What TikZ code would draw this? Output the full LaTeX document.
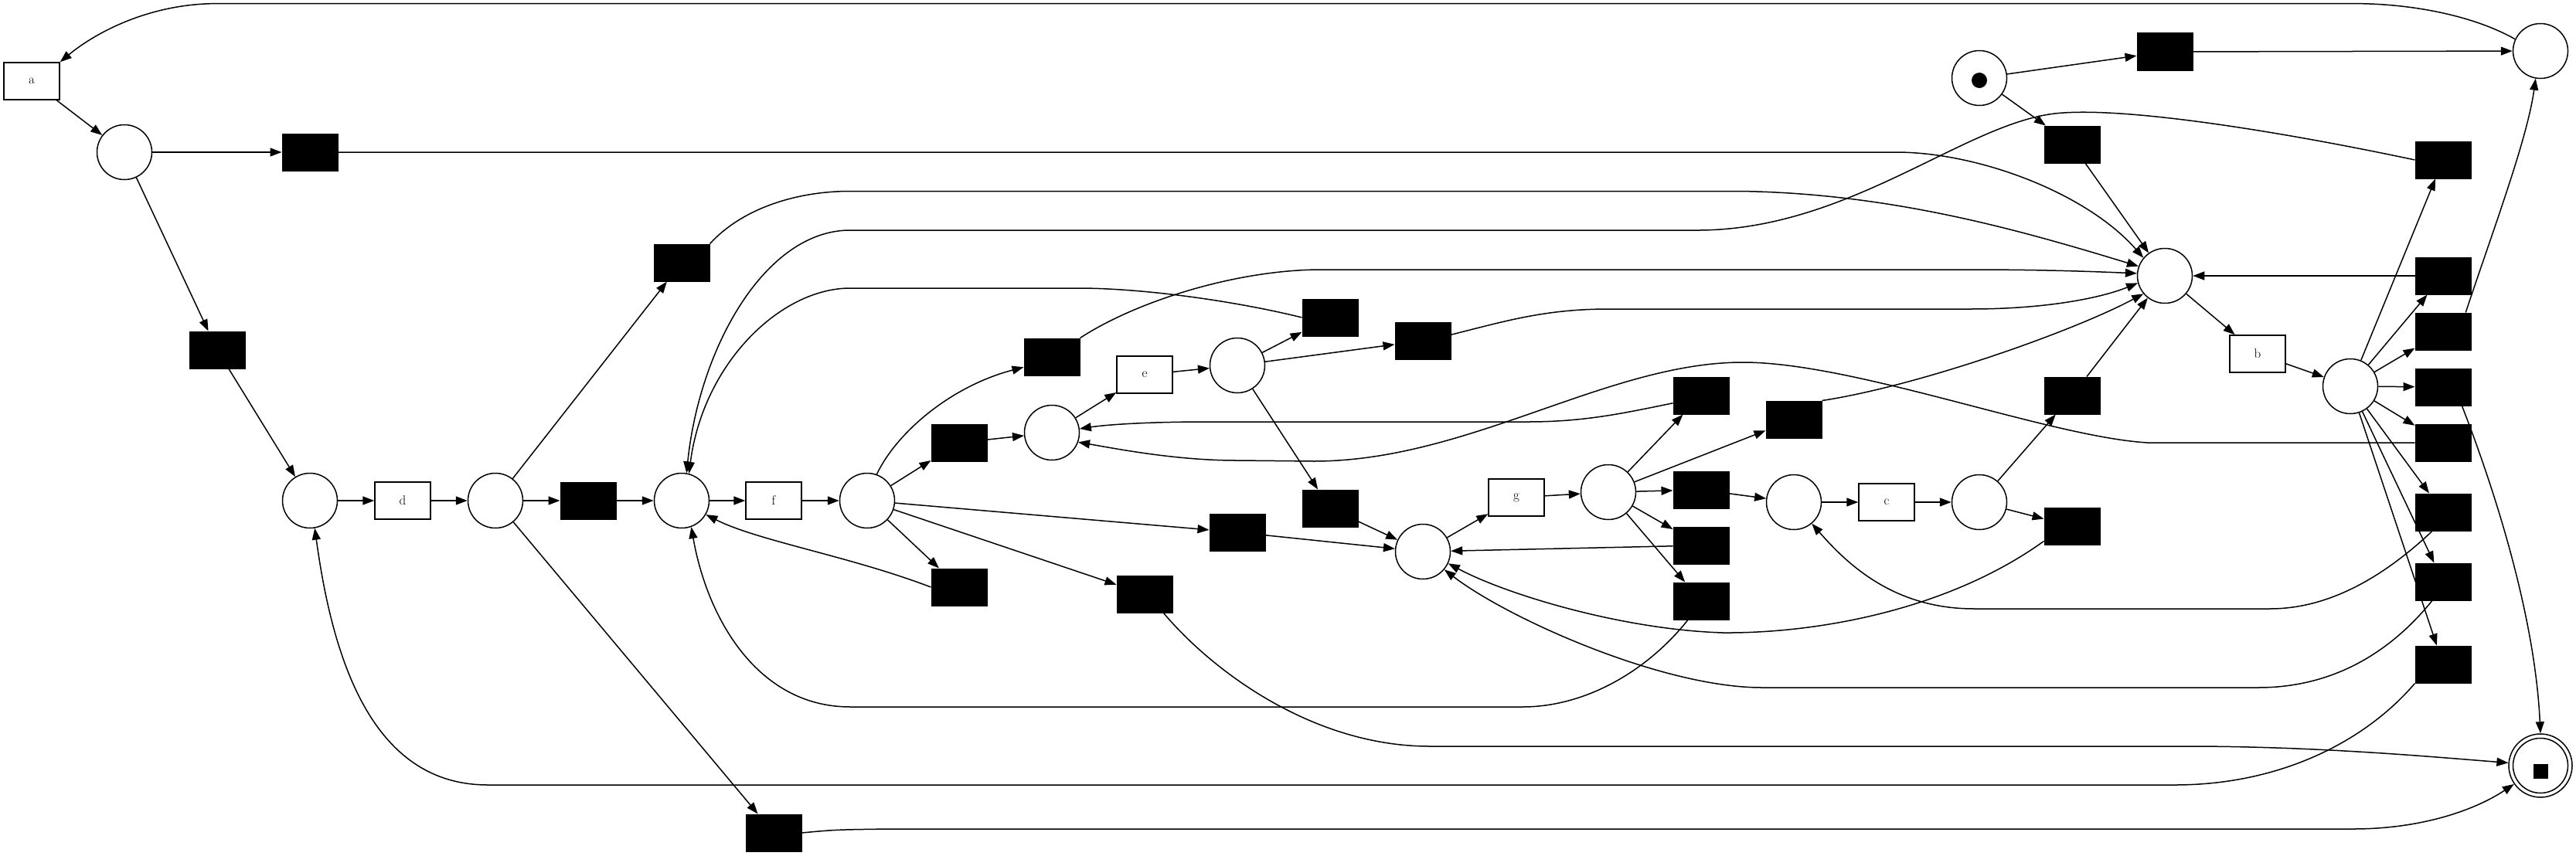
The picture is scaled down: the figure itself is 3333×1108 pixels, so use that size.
\documentclass[tikz,border=0pt]{standalone}
\usepackage{fontspec}
\usetikzlibrary{arrows.meta}
\begin{document}
\begin{tikzpicture}[x=1pt,y=-1pt,
  pl/.style={circle, draw, line width=1.5pt, minimum size=71pt, inner sep=0pt},
  tr/.style={rectangle, draw, line width=1.5pt, minimum width=72pt, minimum height=48pt, inner sep=0pt, font=\fontsize{17}{20}\selectfont},
  sil/.style={rectangle, fill=black, draw=black, line width=1pt, minimum width=72pt, minimum height=48pt, inner sep=0pt},
  arr/.style={-{Triangle[length=15pt,width=11pt]}, line width=1.5pt}]
\useasboundingbox (0,0) rectangle (3333,1108);
% nodes
\node[tr] (a) at (41,105) {a};
\node[pl] (p1) at (161,197) {};
\node[sil] (t1) at (401,197) {};
\node[sil] (t2) at (281,453) {};
\node[pl] (p2) at (401,648) {};
\node[tr] (d) at (521,648) {d};
\node[pl] (p3) at (641,648) {};
\node[sil] (t4) at (761,648) {};
\node[pl] (p4) at (882,648) {};
\node[tr] (f) at (1001,648) {f};
\node[pl] (p5) at (1122,648) {};
\node[sil] (t3) at (882,340) {};
\node[sil] (t5) at (1001,1078) {};
\node[sil] (t30) at (1361,462) {};
\node[tr] (e) at (1481,485) {e};
\node[pl] (p6) at (1601,473) {};
\node[sil] (t6) at (1721,411) {};
\node[sil] (t7) at (1841,441) {};
\node[pl] (p7) at (1361,560) {};
\node[sil] (t8) at (1241,573) {};
\node[sil] (t9) at (1241,760) {};
\node[sil] (t10) at (1481,769) {};
\node[sil] (t11) at (1601,689) {};
\node[sil] (t12) at (1721,658) {};
\node[pl] (p8) at (1841,714) {};
\node[tr] (g) at (1962,644) {g};
\node[pl] (p9) at (2081,637) {};
\node[sil] (t13) at (2201,634) {};
\node[sil] (t14) at (2201,706) {};
\node[sil] (t15) at (2201,778) {};
\node[sil] (t23) at (2201,512) {};
\node[sil] (t24) at (2321,543) {};
\node[pl] (p13) at (2321,650) {};
\node[tr] (c) at (2441,650) {c};
\node[pl] (p14) at (2561,650) {};
\node[sil] (t26) at (2681,681) {};
\node[sil] (t25) at (2681,512) {};
\node[pl] (p0) at (2561,101) {};
\node[circle, fill=black, minimum size=20pt, inner sep=0pt] (tok) at (2561,104) {};
\node[sil] (t16) at (2801,67) {};
\node[pl] (p10) at (3287,66) {};
\node[sil] (t17) at (2681,187) {};
\node[pl] (p11) at (2801,357) {};
\node[tr] (b) at (2921,458) {b};
\node[pl] (p12) at (3041,500) {};
\node[sil] (t18) at (3161,207) {};
\node[sil] (t19) at (3161,357) {};
\node[sil] (t20) at (3161,429) {};
\node[sil] (t21) at (3161,501) {};
\node[sil] (t22) at (3161,573) {};
\node[sil] (t27) at (3161,663) {};
\node[sil] (t28) at (3161,753) {};
\node[sil] (t29) at (3161,860) {};
\node[circle, draw, line width=1.5pt, minimum size=82pt, inner sep=0pt] (p15) at (3287,991) {};
\node[circle, draw, line width=1.5pt, minimum size=71pt, inner sep=0pt] (p15in) at (3287,991) {};
\node[rectangle, fill=black, minimum size=19pt, inner sep=0pt] (fin) at (3287,998) {};
% arcs
\draw[arr] (p10.155) .. controls (3200,20) and (3120,4.6) .. (3045,4.6) -- (281,4.6) .. controls (190,4.6) and (120,45) .. (a.north east);
\draw[arr] (a) -- (p1);
\draw[arr] (p1) -- (t1);
\draw[arr] (t1) -- (2453,197) .. controls (2560,197) and (2700,250) .. (p11.140);
\draw[arr] (p1) -- (t2);
\draw[arr] (t2) -- (p2);
\draw[arr] (p2) -- (d);
\draw[arr] (d) -- (p3);
\draw[arr] (p3) -- (t4);
\draw[arr] (t4) -- (p4);
\draw[arr] (p4) -- (f);
\draw[arr] (f) -- (p5);
\draw[arr] (p3) -- (t3);
\draw[arr] (t3.north east) .. controls (960,270) and (1030,247.5) .. (1100,247.5) -- (2250,247.5) .. controls (2450,250) and (2620,300) .. (p11.160);
\draw[arr] (p3) -- (t5);
\draw[arr] (t5.east) .. controls (1080,1074) .. (1150,1073) -- (3045,1073) .. controls (3130,1073) and (3200,1050) .. (p15.215);
\draw[arr] (t18.west) .. controls (2950,170) and (2760,140) .. (2670,146) .. controls (2550,152) and (2400,296) .. (2200,298) -- (1100,298) .. controls (990,298) and (905,450) .. (p4.80);
\draw[arr] (t6.west) .. controls (1600,390) and (1480,373) .. (1395,373) -- (1100,373) .. controls (1010,373) and (910,470) .. (p4.75);
\draw[arr] (p5.70) .. controls (1160,560) and (1230,500) .. (t30.200);
\draw[arr] (t30.north east) .. controls (1470,390) and (1600,349) .. (1710,349) -- (2550,349) .. controls (2650,349) and (2720,352) .. (p11.175);
\draw[arr] (p7) -- (e);
\draw[arr] (e) -- (p6);
\draw[arr] (p6) -- (t6);
\draw[arr] (p6) -- (t7);
\draw[arr] (p6) -- (t12);
\draw[arr] (t7.12) .. controls (1950,415) and (2000,400) .. (2082,400) -- (2550,400) .. controls (2650,400) and (2720,385) .. (p11.195);
\draw[arr] (p5) -- (t8);
\draw[arr] (t8) -- (p7);
\draw[arr] (p5) -- (t9);
\draw[arr] (t9.west) .. controls (1100,720) and (980,700) .. (p4.-30);
\draw[arr] (p5) -- (t10);
\draw[arr] (p5) -- (t11);
\draw[arr] (t10.-45) .. controls (1570,870) and (1700,966) .. (1850,966) -- (2830,966) .. controls (3000,966) and (3150,980) .. (p15.175);
\draw[arr] (t11) -- (p8);
\draw[arr] (t12) -- (p8);
\draw[arr] (p8) -- (g);
\draw[arr] (g) -- (p9);
\draw[arr] (p9) -- (t23);
\draw[arr] (p9) -- (t24);
\draw[arr] (p9) -- (t13);
\draw[arr] (p9) -- (t14);
\draw[arr] (p9) -- (t15);
\draw[arr] (t13) -- (p13);
\draw[arr] (t14) -- (p8);
\draw[arr] (t15.-125) .. controls (2130,870) and (2050,915) .. (1970,915) -- (1100,915) .. controls (980,915) and (915,800) .. (p4.-70);
\draw[arr] (t23.195) .. controls (2100,535) and (2050,546) .. (1977,546) -- (1563,546) .. controls (1480,546) and (1430,550) .. (p7.8);
\draw[arr] (t24.north east) .. controls (2480,500) and (2680,430) .. (p11.220);
\draw[arr] (p13) -- (c);
\draw[arr] (c) -- (p14);
\draw[arr] (p14) -- (t25);
\draw[arr] (t25) -- (p11);
\draw[arr] (p14) -- (t26);
\draw[arr] (t26.208) .. controls (2520,790) and (2350,820) .. (2229,819) .. controls (2100,815) and (1950,770) .. (p8.-25);
\draw[arr] (p0) -- (t16);
\draw[arr] (t16) -- (p10);
\draw[arr] (p0) -- (t17);
\draw[arr] (t17) -- (p11);
\draw[arr] (p11) -- (b);
\draw[arr] (b) -- (p12);
\draw[arr] (p12) -- (t18);
\draw[arr] (p12) -- (t19);
\draw[arr] (p12) -- (t20);
\draw[arr] (p12) -- (t21);
\draw[arr] (p12) -- (t22);
\draw[arr] (p12) -- (t27);
\draw[arr] (p12) -- (t28);
\draw[arr] (p12) -- (t29);
\draw[arr] (t19) -- (p11);
\draw[arr] (t20.40) .. controls (3225,300) and (3270,180) .. (p10.-100);
\draw[arr] (t21.-45) .. controls (3230,640) and (3280,800) .. (p15.north);
\draw[arr] (t22.west) -- (2778,573) .. controls (2650,565) and (2400,469) .. (2255,469) .. controls (2080,469) and (1900,597) .. (1700,597) -- (1600,596) .. controls (1520,596) and (1440,580) .. (p7.-20);
\draw[arr] (t27.-120) .. controls (3070,760) and (3000,788) .. (2937,788) -- (2554,788) .. controls (2450,788) and (2390,730) .. (p13.-50);
\draw[arr] (t28.-120) .. controls (3080,860) and (3000,890) .. (2922,890) -- (2280,890) .. controls (2150,890) and (1950,800) .. (p8.-40);
\draw[arr] (t29.south west) .. controls (3060,960) and (2950,1016) .. (2814,1016) -- (631,1016) .. controls (480,1016) and (430,850) .. (p2.-80);
\end{tikzpicture}
\end{document}
